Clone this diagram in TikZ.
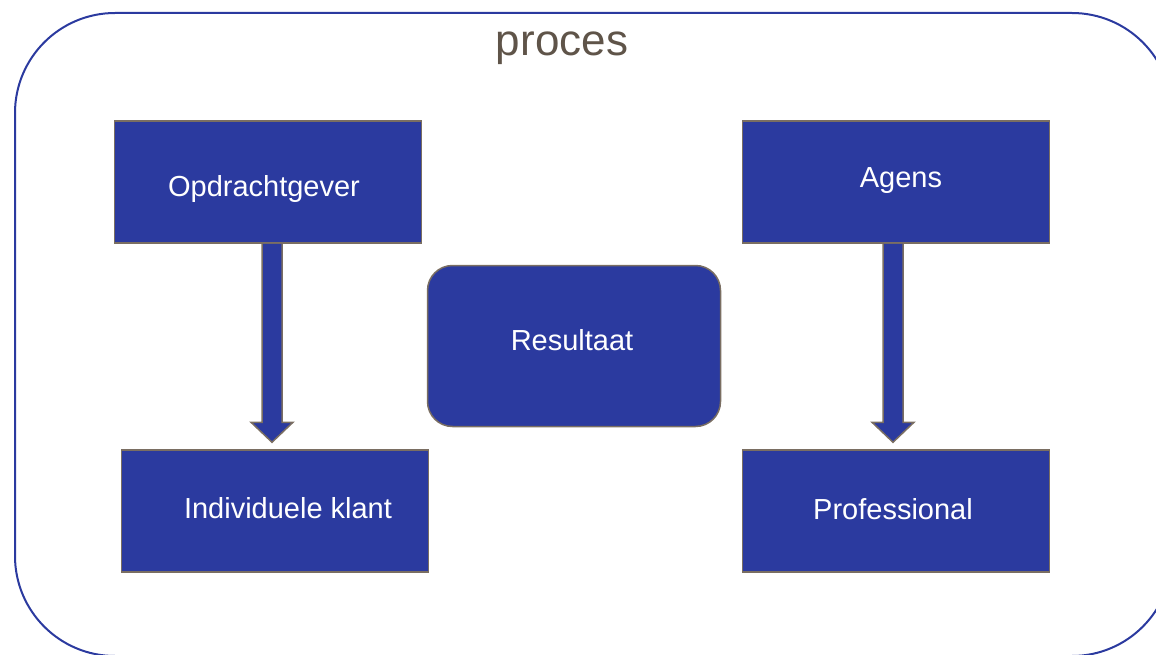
\documentclass[tikz,border=0pt]{standalone}
\usepackage{fontspec}
\setmainfont{Liberation Sans}
\definecolor{vlak}{RGB}{43,58,159}
\definecolor{rand}{RGB}{122,110,98}
\definecolor{kop}{RGB}{95,84,73}
\begin{document}
\begin{tikzpicture}[x=1pt,y=-1pt,
	blok/.style={draw=rand,line width=1.5pt,fill=vlak,minimum width=307pt,minimum height=122pt,inner sep=0pt},
	tekst/.style={text=white,inner sep=0pt,font=\fontsize{29}{34}\selectfont},
	pijl/.style={draw=rand,line width=1.5pt,fill=vlak,line join=miter}]
				\useasboundingbox (0,0) rectangle (1156,655);
				\def\hoek{100pt}
				\draw[vlak,line width=2pt,rounded corners=\hoek] (15,13) rectangle (1172,656);
				\node[text=kop,font=\fontsize{44}{50}\selectfont] (titel) at (562,48) {proces};
				
				\node[blok,label={[tekst,xshift=-4pt,yshift=-7pt]center:Opdrachtgever}] (opdr) at (268,182) {};
				\node[blok,label={[tekst,xshift=5pt,yshift=1pt]center:Agens}] (agens) at (896,182) {};
				\node[blok,label={[tekst,xshift=13pt,yshift=3pt]center:Individuele klant}] (klant) at (275,511) {};
				\node[blok,label={[tekst,xshift=-3pt,yshift=2pt]center:Professional}] (prof) at (896,511) {};
				\node[blok,minimum width=293pt,minimum height=161pt,rounded corners=25pt,
					label={[tekst,xshift=-2pt,yshift=6pt]center:Resultaat}] (res) at (574,346) {};
				
				\foreach \van/\naar/\dx in {opdr/klant/4, agens/prof/-3}{
					\coordinate[xshift=\dx pt] (top) at (\van.south);
					\coordinate[yshift=7pt] (punt) at (top |- \naar.north);
					\draw[pijl] ([xshift=-10pt]top) -- ([xshift=-10pt,yshift=20pt]punt) -- ([xshift=-21pt,yshift=20pt]punt) -- (punt) -- ([xshift=21pt,yshift=20pt]punt) -- ([xshift=10pt,yshift=20pt]punt) -- ([xshift=10pt]top);
				}
\end{tikzpicture}
\end{document}
